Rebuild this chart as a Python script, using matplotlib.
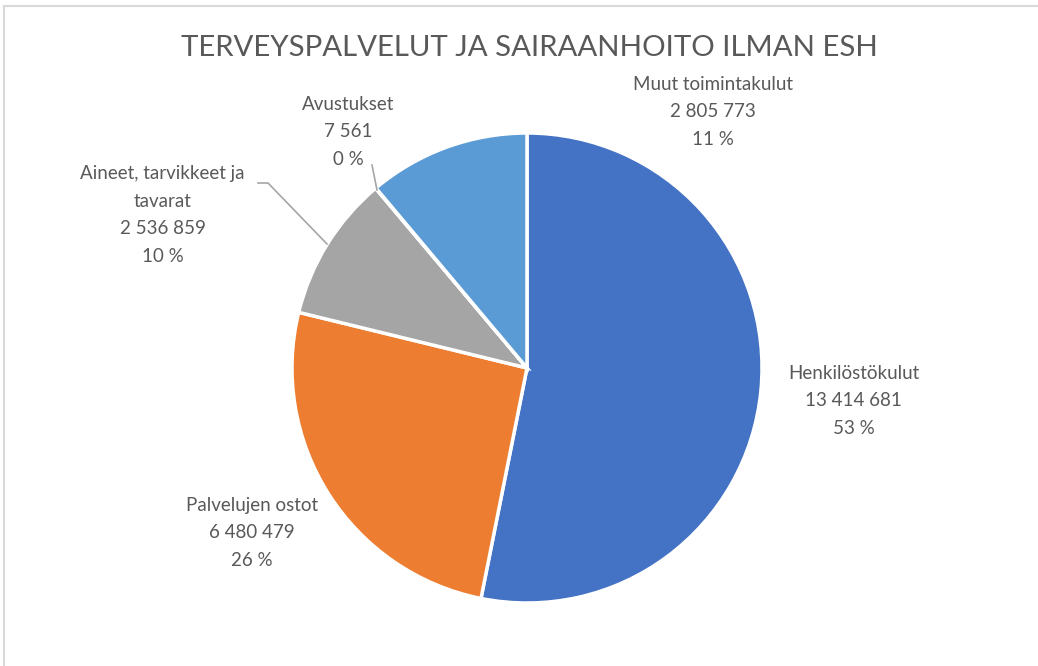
import matplotlib.pyplot as plt
from matplotlib.lines import Line2D

# ============================================================
# Data
# ============================================================

CATEGORIES = [
    "Henkilöstökulut",
    "Palvelujen ostot",
    "Aineet, tarvikkeet ja\ntavarat",
    "Avustukset",
    "Muut toimintakulut",
]
VALUES = [13414681, 6480479, 2536859, 7561, 2805773]
COLORS = ["#4472C4", "#ED7D31", "#A5A5A5", "#FFC000", "#5B9BD5"]

TITLE = "TERVEYSPALVELUT JA SAIRAANHOITO ILMAN ESH"

# label centres in data units (pie radius = 1)
LABEL_POS = [
    (1.39, -0.14),
    (-1.17, -0.70),
    (-1.55, 0.65),
    (-0.76, 1.005),
    (0.79, 1.09),
]

TEXT_COLOR = "#595959"
W, H = 1038, 666


def fmt_value(v):
    return f"{v:,}".replace(",", " ")


# ============================================================
# Plot
# ============================================================

plt.rcParams["font.family"] = ["Lato", "DejaVu Sans"]

fig = plt.figure(figsize=(W / 100, H / 100), dpi=100)

# pie centre (527, 368) px, radius 235 px
cx, cy, r = 527, 368, 235
ax = fig.add_axes([(cx - r) / W, (H - cy - r) / H, 2 * r / W, 2 * r / H])

ax.pie(
    VALUES,
    colors=COLORS,
    startangle=90,
    counterclock=False,
    wedgeprops=dict(edgecolor="white", linewidth=2.5),
)
ax.set_xlim(-1, 1)
ax.set_ylim(-1, 1)

total = sum(VALUES)
for name, v, (lx, ly) in zip(CATEGORIES, VALUES, LABEL_POS):
    pct = round(100 * v / total)
    ax.text(
        lx, ly,
        f"{name}\n{fmt_value(v)}\n{pct} %",
        ha="center", va="center",
        fontsize=13.5, color=TEXT_COLOR,
        linespacing=1.75,
    )

# leader lines (px -> data)
def px(x, y):
    return (x - cx) / r, (cy - y) / r

for pts in [
    [(258, 183), (268, 183), (327, 244)],
    [(372, 165), (377, 190)],
]:
    xs, ys = zip(*[px(*p) for p in pts])
    ax.add_line(Line2D(xs, ys, color="#A6A6A6", lw=1.2, clip_on=False))

fig.text(0.51, 1 - 48 / H, TITLE, ha="center", va="center",
         fontsize=21.2, color=TEXT_COLOR)

# chart border (top and left visible)
fig.add_artist(Line2D([4 / W, 1], [1 - 6 / H, 1 - 6 / H],
                      color="#D9D9D9", lw=1.5, transform=fig.transFigure))
fig.add_artist(Line2D([4 / W, 4 / W], [0, 1 - 6 / H],
                      color="#D9D9D9", lw=1.5, transform=fig.transFigure))

fig.savefig("out.png", dpi=100)
